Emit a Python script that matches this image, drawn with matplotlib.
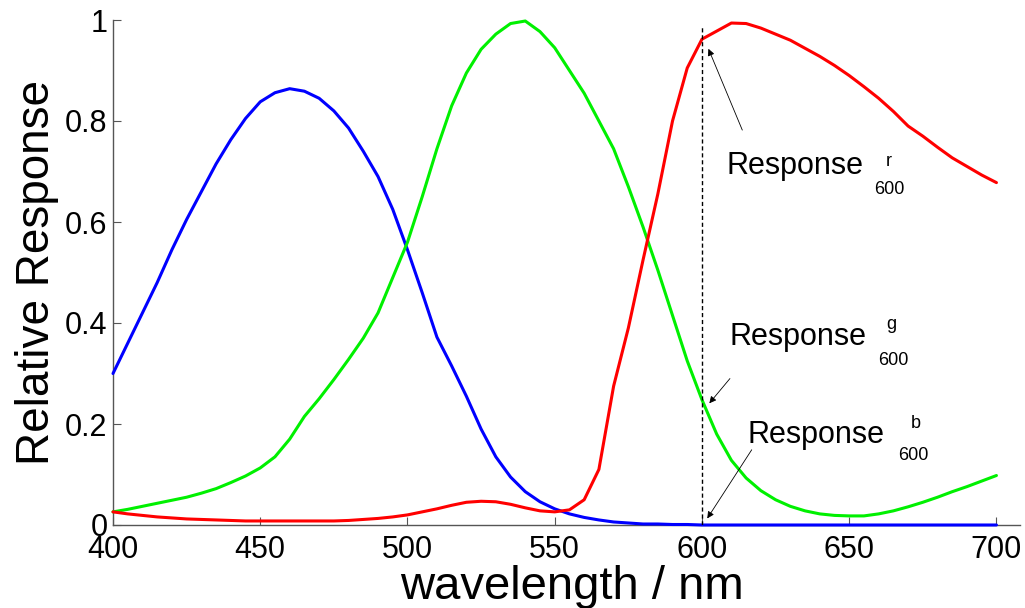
#!/usr/bin/env python3
import numpy as np
import matplotlib
matplotlib.use('Agg')
import matplotlib.pyplot as plt
from matplotlib.ticker import FuncFormatter

plt.rcParams['font.family'] = ['Liberation Sans', 'DejaVu Sans']

# wavelength grid (nm) and the three cone-like response curves
wavelength = np.arange(400, 701, 5)

blue = [0.300, 0.360, 0.420, 0.480, 0.545, 0.605, 0.660, 0.715, 0.763, 0.805,
        0.838, 0.856, 0.864, 0.859, 0.845, 0.820, 0.786, 0.740, 0.690, 0.625,
        0.545, 0.460, 0.372, 0.315, 0.255, 0.190, 0.135, 0.095, 0.066, 0.046,
        0.032, 0.022, 0.015, 0.010, 0.006, 0.004, 0.002, 0.002, 0.001, 0.001,
        0.0, 0.0, 0.0, 0.0, 0.0, 0.0, 0.0, 0.0, 0.0, 0.0,
        0.0, 0.0, 0.0, 0.0, 0.0, 0.0, 0.0, 0.0, 0.0, 0.0, 0.0]

green = [0.026, 0.031, 0.037, 0.043, 0.049, 0.055, 0.063, 0.072, 0.084, 0.097,
         0.113, 0.135, 0.170, 0.215, 0.250, 0.288, 0.328, 0.370, 0.420, 0.490,
         0.560, 0.650, 0.745, 0.830, 0.895, 0.942, 0.972, 0.993, 0.998, 0.977,
         0.945, 0.900, 0.855, 0.800, 0.745, 0.670, 0.590, 0.505, 0.415, 0.325,
         0.248, 0.180, 0.128, 0.093, 0.068, 0.050, 0.037, 0.028, 0.022, 0.019,
         0.018, 0.018, 0.022, 0.028, 0.036, 0.045, 0.055, 0.066, 0.076, 0.087, 0.098]

red = [0.026, 0.022, 0.019, 0.016, 0.014, 0.012, 0.011, 0.010, 0.009, 0.008,
       0.008, 0.008, 0.008, 0.008, 0.008, 0.008, 0.009, 0.011, 0.013, 0.016,
       0.020, 0.026, 0.032, 0.039, 0.045, 0.047, 0.046, 0.041, 0.034, 0.028,
       0.026, 0.030, 0.050, 0.110, 0.275, 0.390, 0.525, 0.655, 0.800, 0.905,
       0.962, 0.978, 0.994, 0.993, 0.984, 0.972, 0.960, 0.944, 0.928, 0.910,
       0.890, 0.868, 0.845, 0.819, 0.790, 0.770, 0.748, 0.727, 0.710, 0.693, 0.678]

marker_wl = 600
xticks = [400, 450, 500, 550, 600, 650, 700]
yticks = [0, 0.2, 0.4, 0.6, 0.8, 1]
channels = ['r', 'g', 'b']


def main():
    fig = plt.figure(figsize=(10.25, 6.08), dpi=100)
    ax = fig.add_axes([113 / 1025, 83 / 608, 907 / 1025, 505 / 608])

    for vals, col in [(blue, '#0000ff'), (green, '#00f000'), (red, '#ff0000')]:
        ax.plot(wavelength, vals, color=col, lw=2.2, zorder=3, clip_on=False,
                solid_joinstyle='round', solid_capstyle='round')

    ax.axvline(marker_wl, ymin=0, ymax=0.99, color='black', lw=1.0,
               ls=(0, (3, 2)), zorder=4)

    ax.set_xlim(400, 708)
    ax.set_ylim(0, 1)
    ax.set_xticks(xticks)
    ax.set_yticks(yticks)
    ax.yaxis.set_major_formatter(FuncFormatter(lambda v, p: '%g' % v))

    for side in ['top', 'right']:
        ax.spines[side].set_visible(False)
    for side in ['left', 'bottom']:
        ax.spines[side].set_color('#555555')
        ax.spines[side].set_linewidth(1.0)
    ax.tick_params(direction='in', length=6, width=0.8, color='#555555',
                   labelsize=22, labelcolor='black')
    ax.tick_params(axis='x', pad=7)
    ax.tick_params(axis='y', pad=4)

    ax.set_xlabel('wavelength / nm', fontsize=34)
    ax.xaxis.set_label_coords(0.506, -0.080)
    ax.set_ylabel('Relative Response', fontsize=33)
    ax.yaxis.set_label_coords(-0.06, 0.5)

    # labels: (Response left, baseline), (superscript), (subscript), arrow tail, arrow head
    label_pos = {
        'r': ((608.5, 0.695), (662.5, 0.711), (658.4, 0.655), (613.7, 0.782), (602.2, 0.943)),
        'g': ((609.5, 0.357), (662.5, 0.388), (659.8, 0.317), (609.5, 0.290), (602.5, 0.241)),
        'b': ((615.6, 0.163), (671.0, 0.192), (666.6, 0.129), (616.9, 0.149), (601.8, 0.013)),
    }
    for ch in channels:
        main_xy, sup_xy, sub_xy, tail, head = label_pos[ch]
        ax.text(*main_xy, 'Response', fontsize=22, ha='left', va='baseline')
        ax.text(*sup_xy, ch, fontsize=13, ha='left', va='baseline')
        ax.text(*sub_xy, str(marker_wl), fontsize=13, ha='left', va='baseline')
        ax.annotate('', xy=head, xytext=tail,
                    arrowprops=dict(arrowstyle='-|>', color='black', lw=0.6,
                                    mutation_scale=10, shrinkA=0, shrinkB=0))

    fig.savefig('out.png', dpi=100)


if __name__ == '__main__':
    main()
